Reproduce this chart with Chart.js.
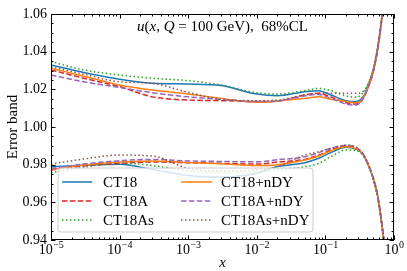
<!DOCTYPE html>
<html lang="en">
<head>
    <meta charset="UTF-8">
    <title>u(x, Q = 100 GeV) error bands</title>
    <script src="https://cdn.jsdelivr.net/npm/chart.js"></script>
    <style>
        html, body {
            margin: 0;
            padding: 0;
            background: white;
        }

        .chart-container {
            width: 407px;
            height: 271px;
        }
    </style>
</head>
<body>
    <div class="chart-container">
        <canvas id="bandChart"></canvas>
    </div>

    <script>
        // x grid (momentum fraction)
        const xValues = [1e-5, 3e-5, 1e-4, 3e-4, 1e-3, 3e-3, 1e-2, 2e-2, 5e-2, 0.08,
                         0.12, 0.2, 0.28, 0.35, 0.42, 0.5, 0.58, 0.65, 0.72, 0.8];

        const seriesNames = ['CT18', 'CT18A', 'CT18As', 'CT18+nDY', 'CT18A+nDY', 'CT18As+nDY'];

        // upper edge of each error band
        const ct18Upper = [1.0329, 1.0289, 1.0253, 1.0232, 1.0228, 1.0220, 1.0175, 1.0166, 1.0187, 1.0193,
                           1.0170, 1.0140, 1.0135, 1.0158, 1.0215, 1.0300, 1.0420, 1.0550, 1.0700, 1.0900];
        const ct18aUpper = [1.0303, 1.0259, 1.0214, 1.0160, 1.0143, 1.0140, 1.0135, 1.0138, 1.0170, 1.0179,
                            1.0160, 1.0129, 1.0122, 1.0147, 1.0210, 1.0295, 1.0415, 1.0545, 1.0700, 1.0900];
        const ct18asUpper = [1.0347, 1.0303, 1.0276, 1.0259, 1.0246, 1.0223, 1.0182, 1.0175, 1.0193, 1.0205,
                             1.0193, 1.0165, 1.0158, 1.0180, 1.0230, 1.0310, 1.0430, 1.0560, 1.0710, 1.0900];
        const ct18ndyUpper = [1.0312, 1.0270, 1.0223, 1.0196, 1.0175, 1.0152, 1.0131, 1.0138, 1.0152, 1.0160,
                              1.0147, 1.0135, 1.0129, 1.0152, 1.0212, 1.0298, 1.0418, 1.0548, 1.0700, 1.0900];
        const ct18andyUpper = [1.0276, 1.0240, 1.0210, 1.0182, 1.0160, 1.0147, 1.0135, 1.0138, 1.0165, 1.0173,
                               1.0152, 1.0122, 1.0117, 1.0147, 1.0210, 1.0295, 1.0415, 1.0545, 1.0700, 1.0900];
        const ct18asndyUpper = [1.0320, 1.0280, 1.0240, 1.0232, 1.0184, 1.0147, 1.0140, 1.0143, 1.0170, 1.0179,
                                1.0179, 1.0179, 1.0179, 1.0187, 1.0230, 1.0310, 1.0430, 1.0560, 1.0710, 1.0900];

        // lower edge of each error band
        const ct18Lower = [0.9789, 0.9797, 0.9802, 0.9775, 0.9743, 0.9735, 0.9755, 0.9790, 0.9810, 0.9834,
                           0.9864, 0.9892, 0.9882, 0.9857, 0.9800, 0.9725, 0.9630, 0.9510, 0.9380, 0.9200];
        const ct18aLower = [0.9772, 0.9793, 0.9807, 0.9814, 0.9810, 0.9807, 0.9803, 0.9814, 0.9828, 0.9851,
                            0.9878, 0.9899, 0.9888, 0.9857, 0.9800, 0.9722, 0.9625, 0.9505, 0.9370, 0.9200];
        const ct18asLower = [0.9757, 0.9786, 0.9810, 0.9795, 0.9768, 0.9758, 0.9762, 0.9773, 0.9789, 0.9807,
                             0.9842, 0.9878, 0.9874, 0.9850, 0.9795, 0.9720, 0.9620, 0.9500, 0.9360, 0.9200];
        const ct18ndyLower = [0.9775, 0.9798, 0.9814, 0.9820, 0.9812, 0.9805, 0.9795, 0.9800, 0.9825, 0.9846,
                              0.9874, 0.9895, 0.9885, 0.9857, 0.9800, 0.9725, 0.9630, 0.9510, 0.9380, 0.9200];
        const ct18andyLower = [0.9780, 0.9803, 0.9821, 0.9828, 0.9820, 0.9817, 0.9815, 0.9826, 0.9842, 0.9864,
                               0.9887, 0.9903, 0.9892, 0.9860, 0.9805, 0.9728, 0.9635, 0.9515, 0.9385, 0.9200];
        const ct18asndyLower = [0.9803, 0.9830, 0.9851, 0.9846, 0.9780, 0.9766, 0.9772, 0.9790, 0.9851, 0.9869,
                                0.9887, 0.9903, 0.9892, 0.9860, 0.9805, 0.9728, 0.9635, 0.9515, 0.9385, 0.9200];

        const yTicks = [0.94, 0.96, 0.98, 1.00, 1.02, 1.04, 1.06];
        const xTickExponents = [-5, -4, -3, -2, -1, 0];

        const upperBands = [ct18Upper, ct18aUpper, ct18asUpper, ct18ndyUpper, ct18andyUpper, ct18asndyUpper];
        const lowerBands = [ct18Lower, ct18aLower, ct18asLower, ct18ndyLower, ct18andyLower, ct18asndyLower];

        const colors = ['#1f77b4', '#d62728', '#2ca02c', '#ff7f0e', '#9467bd', '#8c564b'];
        const dashes = [[], [5.5, 2.4], [1.5, 2.5], [], [5.5, 2.4], [1.5, 2.5]];

        const serif = '"Liberation Serif", "Times New Roman", serif';

        const datasets = [];
        seriesNames.forEach((name, i) => {
            [upperBands[i], lowerBands[i]].forEach(band => {
                datasets.push({
                    label: name,
                    data: xValues.map((x, k) => ({ x: x, y: band[k] })),
                    borderColor: colors[i],
                    borderWidth: 1.5,
                    borderDash: dashes[i],
                    pointRadius: 0,
                    fill: false,
                    cubicInterpolationMode: 'monotone',
                    order: 100 - i // later series on top, like matplotlib
                });
            });
        });

        // frame, inward ticks, x labels, title and legend drawn over the lines
        const decorations = {
            id: 'decorations',
            afterDatasetsDraw(chart) {
                const ctx = chart.ctx;
                const area = chart.chartArea;
                const xs = chart.scales.x;
                const ys = chart.scales.y;
                ctx.save();

                // frame
                ctx.strokeStyle = '#000';
                ctx.lineWidth = 1;
                ctx.strokeRect(area.left + 0.5, area.top + 0.5, area.right - area.left - 1, area.bottom - area.top - 1);

                // y ticks
                for (let v = 0.94; v <= 1.0601; v += 0.005) {
                    const y = Math.round(ys.getPixelForValue(v)) + 0.5;
                    const major = Math.abs(v * 50 - Math.round(v * 50)) < 1e-6;
                    const len = major ? 4.5 : 2.5;
                    ctx.beginPath();
                    ctx.moveTo(area.left, y); ctx.lineTo(area.left + len, y);
                    ctx.moveTo(area.right, y); ctx.lineTo(area.right - len, y);
                    ctx.stroke();
                }

                // x ticks
                xTickExponents.forEach(e => {
                    for (let m = 1; m <= 9; m++) {
                        if (e === 0 && m > 1) break;
                        const x = Math.round(xs.getPixelForValue(m * Math.pow(10, e))) + 0.5;
                        const len = m === 1 ? 4.5 : 2.5;
                        ctx.beginPath();
                        ctx.moveTo(x, area.bottom); ctx.lineTo(x, area.bottom - len);
                        ctx.moveTo(x, area.top); ctx.lineTo(x, area.top + len);
                        ctx.stroke();
                    }
                });

                // x tick labels 10^e
                ctx.fillStyle = '#000';
                ctx.textBaseline = 'alphabetic';
                ctx.textAlign = 'left';
                xTickExponents.forEach(e => {
                    const x = xs.getPixelForValue(Math.pow(10, e));
                    const base = '10';
                    const sup = e < 0 ? '\u2212' + (-e) : String(e);
                    ctx.font = '14px ' + serif;
                    const wb = ctx.measureText(base).width;
                    ctx.font = '10px ' + serif;
                    const ws = ctx.measureText(sup).width;
                    const x0 = x - (wb + ws) / 2;
                    ctx.font = '14px ' + serif;
                    ctx.fillText(base, x0, 254);
                    ctx.font = '10px ' + serif;
                    ctx.fillText(sup, x0 + wb + 0.5, 248);
                });

                // axis titles
                ctx.font = 'italic 15px ' + serif;
                ctx.textAlign = 'center';
                ctx.fillText('x', (area.left + area.right) / 2, 267);
                ctx.save();
                ctx.translate(17, (area.top + area.bottom) / 2);
                ctx.rotate(-Math.PI / 2);
                ctx.font = '15px ' + serif;
                ctx.fillText('Error band', 0, 0);
                ctx.restore();

                // title with italic math symbols
                const parts = [
                    ['u', true], ['(', false], ['x', true], [', ', false], ['Q', true],
                    [' = 100 GeV),  68%CL', false]
                ];
                let total = 0;
                parts.forEach(p => {
                    ctx.font = (p[1] ? 'italic ' : '') + '15px ' + serif;
                    total += ctx.measureText(p[0]).width;
                });
                let tx = 222.5 - total / 2;
                ctx.textAlign = 'left';
                parts.forEach(p => {
                    ctx.font = (p[1] ? 'italic ' : '') + '15px ' + serif;
                    ctx.fillText(p[0], tx, 31);
                    tx += ctx.measureText(p[0]).width;
                });

                // legend box
                const lx = 58, ly = 168, lw = 255, lh = 64, r = 3;
                ctx.beginPath();
                ctx.moveTo(lx + r, ly);
                ctx.arcTo(lx + lw, ly, lx + lw, ly + lh, r);
                ctx.arcTo(lx + lw, ly + lh, lx, ly + lh, r);
                ctx.arcTo(lx, ly + lh, lx, ly, r);
                ctx.arcTo(lx, ly, lx + lw, ly, r);
                ctx.closePath();
                ctx.fillStyle = 'rgba(255,255,255,0.8)';
                ctx.fill();
                ctx.strokeStyle = '#cccccc';
                ctx.stroke();

                const rows = [182, 201, 220];
                const cols = [{ l0: 62, l1: 92, t: 103 }, { l0: 181, l1: 212, t: 221 }];
                seriesNames.forEach((name, i) => {
                    const c = cols[Math.floor(i / 3)];
                    const y = rows[i % 3];
                    ctx.beginPath();
                    ctx.setLineDash(dashes[i]);
                    ctx.strokeStyle = colors[i];
                    ctx.lineWidth = 1.5;
                    ctx.moveTo(c.l0, y); ctx.lineTo(c.l1, y);
                    ctx.stroke();
                    ctx.setLineDash([]);
                    ctx.fillStyle = '#000';
                    ctx.font = '15px ' + serif;
                    ctx.textBaseline = 'middle';
                    ctx.fillText(name, c.t, y + 1);
                });

                ctx.restore();
            }
        };

        new Chart(document.getElementById('bandChart'), {
            type: 'line',
            data: { datasets: datasets },
            options: {
                responsive: true,
                maintainAspectRatio: false,
                animation: false,
                layout: { padding: { top: 14, right: 13, left: 0, bottom: 0 } },
                plugins: {
                    legend: { display: false },
                    tooltip: { enabled: false }
                },
                scales: {
                    x: {
                        type: 'logarithmic',
                        min: 1e-5,
                        max: 1,
                        grid: { display: false, drawTicks: false },
                        border: { display: false },
                        ticks: { display: false },
                        afterFit: s => { s.height = 31; }
                    },
                    y: {
                        min: 0.94,
                        max: 1.06,
                        grid: { display: false, drawTicks: false },
                        border: { display: false },
                        afterBuildTicks: s => { s.ticks = yTicks.map(v => ({ value: v })); },
                        ticks: {
                            color: '#000',
                            padding: 4,
                            font: { family: serif, size: 14 },
                            callback: v => Number(v).toFixed(2)
                        },
                        afterFit: s => { s.width = 51; }
                    }
                }
            },
            plugins: [decorations]
        });
    </script>
</body>
</html>
